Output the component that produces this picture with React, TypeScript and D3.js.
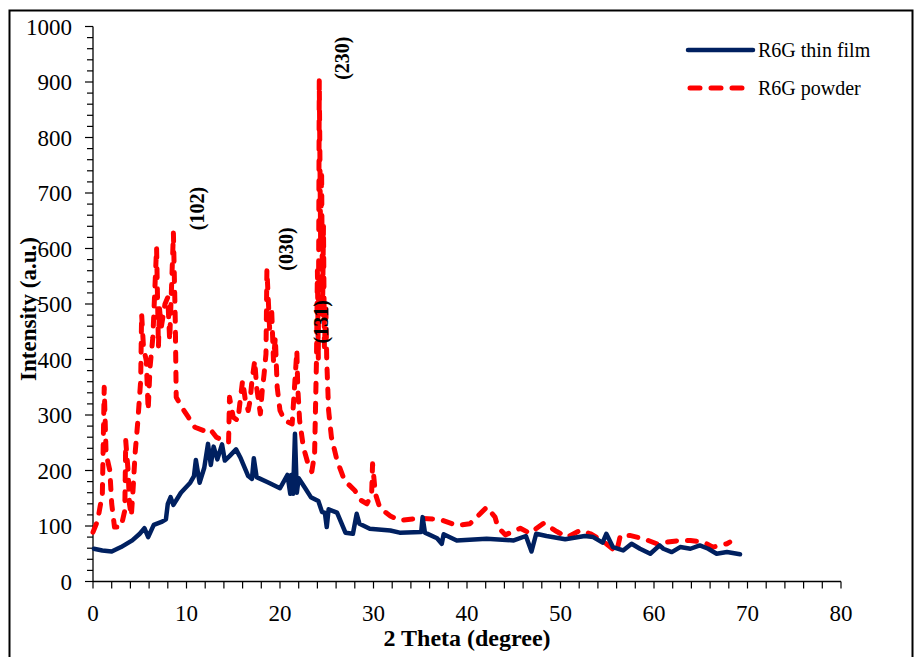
import React from "react";
import * as d3 from "d3";

// 2θ (degree) / intensity (a.u.) pairs for each sample
const filmTheta = [0.1, 1.0, 2.0, 3.0, 4.2, 5.0, 5.5, 5.9, 6.5, 7.4, 7.8, 8.0, 8.3, 8.6, 9.4, 10.4, 10.8, 11.0, 11.4, 11.9, 12.3, 12.6, 12.9, 13.3, 13.8, 14.1, 14.6, 15.3, 15.8, 16.6, 17.0, 17.2, 17.5, 18.8, 20.0, 20.8, 21.1, 21.2, 21.4, 21.6, 21.8, 22.0, 22.7, 23.3, 24.1, 24.5, 24.8, 25.0, 25.2, 26.1, 27.0, 27.8, 28.2, 28.5, 29.6, 31.8, 32.8, 35.1, 35.25, 35.5, 36.8, 37.3, 37.5, 38.9, 42.1, 45.0, 46.3, 46.9, 47.4, 48.5, 50.5, 52.6, 53.5, 54.5, 54.9, 55.6, 56.7, 57.6, 58.5, 59.6, 60.6, 61.0, 61.9, 62.8, 63.9, 64.9, 65.8, 66.7, 67.8, 69.2];
const filmIntensity = [59, 56, 54, 62, 74, 86, 96, 80, 102, 108, 112, 140, 152, 138, 160, 178, 190, 219, 178, 205, 248, 210, 243, 220, 247, 218, 226, 238, 222, 190, 185, 222, 188, 178, 168, 192, 158, 192, 158, 266, 160, 186, 168, 152, 145, 125, 124, 98, 130, 124, 88, 86, 122, 104, 95, 92, 88, 89, 116, 88, 78, 68, 85, 74, 77, 74, 82, 54, 86, 82, 76, 82, 80, 70, 86, 62, 56, 68, 59, 50, 65, 59, 53, 62, 59, 65, 59, 50, 53, 49];

const powderTheta = [0.0, 0.5, 1.0, 1.2, 1.4, 1.8, 2.0, 2.3, 3.0, 3.4, 3.5, 3.75, 3.9, 4.1, 4.3, 4.5, 4.8, 5.1, 5.2, 5.4, 5.7, 5.9, 6.1, 6.4, 6.8, 7.0, 7.1, 7.3, 7.7, 8.0, 8.2, 8.6, 8.8, 8.9, 9.5, 10.2, 10.9, 11.8, 12.5, 13.2, 13.9, 14.5, 14.6, 14.8, 15.0, 15.5, 15.7, 16.0, 16.3, 16.6, 16.8, 17.0, 17.3, 17.5, 17.9, 18.1, 18.3, 18.5, 18.6, 18.9, 19.1, 19.3, 19.5, 19.7, 20.0, 20.5, 21.3, 21.8, 21.9, 22.1, 22.5, 23.0, 23.4, 23.7, 23.9, 24.0, 24.1, 24.2, 24.35, 24.45, 24.55, 24.65, 24.75, 24.9, 25.0, 25.2, 25.5, 26.1, 26.9, 28.0, 28.7, 29.3, 29.8, 29.9, 30.2, 30.7, 31.8, 32.8, 35.0, 37.1, 38.9, 40.3, 41.4, 42.1, 43.0, 43.3, 44.1, 45.7, 46.7, 48.2, 49.6, 50.7, 52.1, 53.2, 54.2, 54.9, 56.0, 56.4, 57.4, 58.9, 60.3, 61.4, 62.8, 63.9, 65.3, 66.3, 67.8, 68.1];
const powderIntensity = [89, 110, 158, 350, 230, 200, 140, 98, 98, 128, 254, 200, 140, 118, 170, 230, 290, 362, 482, 422, 398, 308, 386, 440, 602, 422, 494, 458, 500, 512, 434, 628, 470, 332, 314, 296, 278, 272, 275, 260, 254, 251, 332, 314, 296, 290, 320, 362, 326, 308, 326, 362, 398, 350, 302, 344, 374, 410, 562, 452, 494, 398, 440, 350, 308, 290, 284, 416, 350, 290, 242, 212, 198, 230, 398, 560, 400, 903, 600, 740, 480, 640, 420, 500, 398, 308, 260, 218, 182, 164, 146, 140, 158, 212, 158, 132, 118, 110, 114, 112, 101, 104, 122, 134, 116, 98, 84, 96, 87, 105, 90, 80, 92, 86, 76, 68, 53, 83, 83, 77, 68, 71, 74, 74, 71, 62, 68, 71];

const xMajorTicks = [0, 10, 20, 30, 40, 50, 60, 70, 80];
const yMajorTicks = [0, 100, 200, 300, 400, 500, 600, 700, 800, 900, 1000];

const seriesNames = ["R6G thin film", "R6G powder"];
const peakLabels = ["(102)", "(030)", "(131)", "(230)"];
// where each peak label sits, in data units (2θ, intensity)
const peakTheta = [11.9, 21.4, 25.1, 27.4];
const peakIntensity = [672, 599, 468, 943];

const FILM_COLOR = "#002060";
const POWDER_COLOR = "#FF0000";
const SERIF = "'Times New Roman', 'Liberation Serif', serif";

export default function App() {
  const width = 923;
  const height = 657;
  const x = d3.scaleLinear().domain([0, 80]).range([93, 841]);
  const y = d3.scaleLinear().domain([0, 1000]).range([581.5, 26.5]);

  const line = d3
    .line<[number, number]>()
    .x((d) => x(d[0]))
    .y((d) => y(d[1]));

  const film = filmTheta.map((t, i) => [t, filmIntensity[i]] as [number, number]);
  const powder = powderTheta.map((t, i) => [t, powderIntensity[i]] as [number, number]);

  const xMinor = d3.range(0, 81, 2);
  const yMinor = d3.range(0, 1001, 20);

  return (
    <svg
      width={width}
      height={height}
      style={{ position: "absolute", left: 0, top: 0, display: "block", background: "#fff" }}
      fontFamily={SERIF}
    >
      <rect x={0} y={0} width={width} height={height} fill="#fff" />
      {/* outer frame */}
      <rect x={9.5} y={10.5} width={903} height={670} fill="none" stroke="#000" strokeWidth={2} />

      {/* y axis */}
      <line x1={x(0)} x2={x(0)} y1={y(0)} y2={y(1000)} stroke="#000" strokeWidth={1.3} />
      {yMinor.map((v) => (
        <line key={"ym" + v} x1={x(0) - (v % 100 === 0 ? 8 : 6)} x2={x(0)} y1={y(v)} y2={y(v)} stroke="#000" strokeWidth={1.2} />
      ))}
      {yMajorTicks.map((v) => (
        <text key={"yl" + v} x={72} y={y(v) + 8} textAnchor="end" fontSize={23} fill="#000">
          {v}
        </text>
      ))}

      {/* x axis */}
      <line x1={x(0)} x2={x(80)} y1={y(0)} y2={y(0)} stroke="#000" strokeWidth={1.3} />
      {xMinor.map((v) => (
        <line key={"xm" + v} x1={x(v)} x2={x(v)} y1={y(0)} y2={y(0) + 7} stroke="#000" strokeWidth={1.2} />
      ))}
      {xMajorTicks.map((v) => (
        <text key={"xl" + v} x={x(v)} y={621} textAnchor="middle" fontSize={23} fill="#000">
          {v}
        </text>
      ))}

      {/* axis titles */}
      <text x={467} y={646} textAnchor="middle" fontSize={24} fontWeight="bold" fill="#000">
        2 Theta (degree)
      </text>
      <text
        transform={`translate(36,309) rotate(-90)`}
        textAnchor="middle"
        fontSize={23}
        fontWeight="bold"
        fill="#000"
      >
        Intensity (a.u.)
      </text>

      {/* series */}
      <path
        d={line(powder) || ""}
        fill="none"
        stroke={POWDER_COLOR}
        strokeWidth={5}
        strokeDasharray="9 11"
        strokeLinecap="round"
        strokeLinejoin="round"
      />
      <path
        d={line(film) || ""}
        fill="none"
        stroke={FILM_COLOR}
        strokeWidth={4.5}
        strokeLinecap="round"
        strokeLinejoin="round"
      />

      {/* peak indices */}
      {peakLabels.map((lab, i) => (
        <text
          key={lab}
          transform={`translate(${x(peakTheta[i])},${y(peakIntensity[i])}) rotate(-90)`}
          textAnchor="middle"
          fontSize={20}
          fontWeight="bold"
          fill="#000"
        >
          {lab}
        </text>
      ))}

      {/* legend */}
      <line x1={688} x2={753} y1={50} y2={50} stroke={FILM_COLOR} strokeWidth={4.5} strokeLinecap="round" />
      <text x={758} y={57} fontSize={20} fill="#000">
        {seriesNames[0]}
      </text>
      <line
        x1={690}
        x2={745}
        y1={88}
        y2={88}
        stroke={POWDER_COLOR}
        strokeWidth={5}
        strokeDasharray="10 11"
        strokeLinecap="round"
      />
      <text x={758} y={95} fontSize={20} fill="#000">
        {seriesNames[1]}
      </text>
    </svg>
  );
}
